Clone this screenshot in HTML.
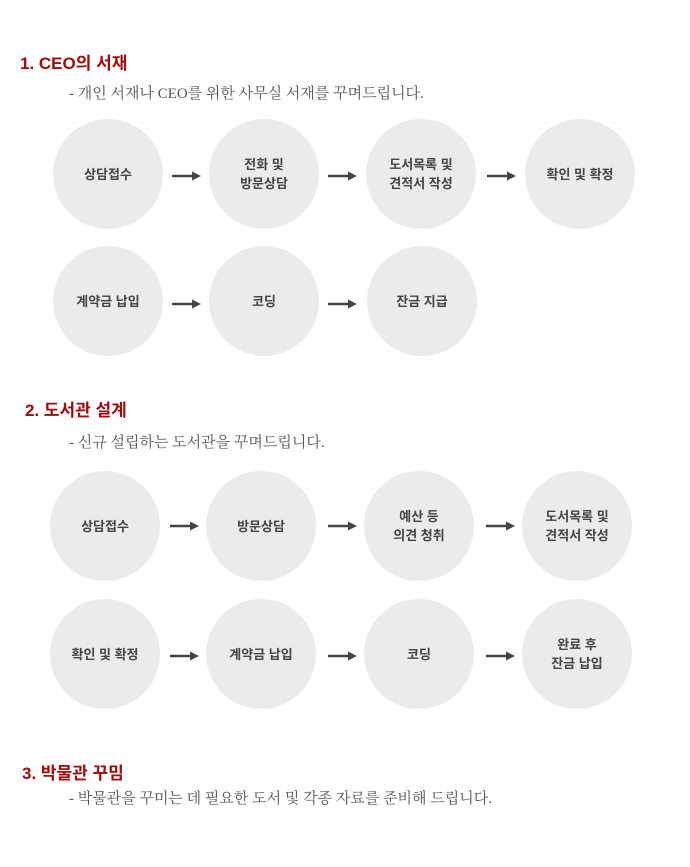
<!DOCTYPE html>
<html><head><meta charset="utf-8"><style>
body{margin:0;width:690px;height:867px;background:#fff;position:relative;font-family:"Liberation Sans","Noto Sans CJK KR",sans-serif;overflow:hidden}
.t{position:absolute;color:#a00c0c;font-weight:bold;font-size:17px;white-space:nowrap}
.s{position:absolute;color:#555;font-size:15px;font-family:"Liberation Serif","Noto Serif CJK SC",serif;white-space:nowrap}
.c{position:absolute;width:110px;height:110px;border-radius:50%;background:#ebebeb;display:flex;align-items:center;justify-content:center;text-align:center;font-size:13px;font-weight:bold;color:#444;line-height:19px}
</style></head><body>
<div class="t" style="left:20px;top:49px">1. CEO의 서재</div>
<div class="s" style="left:69px;top:82px">- 개인 서재나 CEO를 위한 사무실 서재를 꾸며드립니다.</div>
<div class="c" style="left:53px;top:119px">상담접수</div>
<div class="c" style="left:209px;top:119px">전화 및<br>방문상담</div>
<div class="c" style="left:366px;top:119px">도서목록 및<br>견적서 작성</div>
<div class="c" style="left:525px;top:119px">확인 및 확정</div>
<div class="c" style="left:53px;top:246px">계약금 납입</div>
<div class="c" style="left:209px;top:246px">코딩</div>
<div class="c" style="left:367px;top:246px">잔금 지급</div>

<div class="t" style="left:25px;top:396px">2. 도서관 설계</div>
<div class="s" style="left:69px;top:431px">- 신규 설립하는 도서관을 꾸며드립니다.</div>
<div class="c" style="left:50px;top:471px">상담접수</div>
<div class="c" style="left:206px;top:471px">방문상담</div>
<div class="c" style="left:364px;top:471px">예산 등<br>의견 청취</div>
<div class="c" style="left:522px;top:471px">도서목록 및<br>견적서 작성</div>
<div class="c" style="left:50px;top:599px">확인 및 확정</div>
<div class="c" style="left:206px;top:599px">계약금 납입</div>
<div class="c" style="left:364px;top:599px">코딩</div>
<div class="c" style="left:522px;top:599px">완료 후<br>잔금 납입</div>

<div class="t" style="left:22px;top:759px">3. 박물관 꾸밈</div>
<div class="s" style="left:69px;top:787px">- 박물관을 꾸미는 데 필요한 도서 및 각종 자료를 준비해 드립니다.</div>

<svg width="690" height="867" style="position:absolute;left:0;top:0">
<defs><g id="ar"><line x1="0" y1="0" x2="22" y2="0" stroke="#444" stroke-width="2.5"/><polygon points="20,-4.5 29,0 20,4.5" fill="#444"/></g></defs>
<use href="#ar" x="172" y="176"/><use href="#ar" x="328" y="176"/><use href="#ar" x="487" y="176"/>
<use href="#ar" x="172" y="304"/><use href="#ar" x="328" y="304"/>
<use href="#ar" x="170" y="526"/><use href="#ar" x="328" y="526"/><use href="#ar" x="486" y="526"/>
<use href="#ar" x="170" y="656"/><use href="#ar" x="328" y="656"/><use href="#ar" x="486" y="656"/>
</svg>
</body></html>
